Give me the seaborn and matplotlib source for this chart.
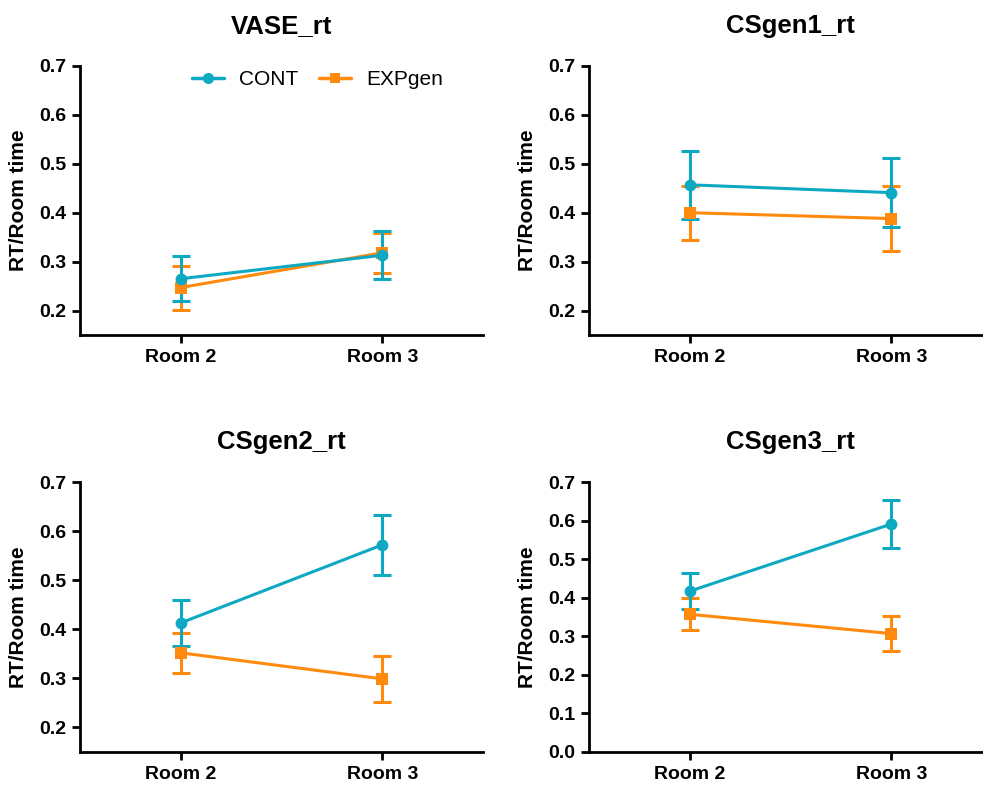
import pandas as pd
import matplotlib
matplotlib.use("Agg")
import matplotlib.pyplot as plt
import seaborn as sns
from matplotlib.lines import Line2D

# Data (means and SEM)
rooms = ["Room 2", "Room 3"]
groups = ["CONT", "EXPgen"]
titles = ["VASE_rt", "CSgen1_rt", "CSgen2_rt", "CSgen3_rt"]

cont_mean = [[0.265, 0.313], [0.457, 0.441], [0.413, 0.572], [0.417, 0.591]]
cont_sem = [[0.046, 0.049], [0.069, 0.071], [0.047, 0.061], [0.046, 0.063]]
exp_mean = [[0.247, 0.318], [0.400, 0.388], [0.352, 0.299], [0.357, 0.307]]
exp_sem = [[0.045, 0.041], [0.055, 0.066], [0.041, 0.047], [0.041, 0.046]]

y_lims = [(0.15, 0.7), (0.15, 0.7), (0.15, 0.7), (0.0, 0.7)]
y_ticks = [[0.2, 0.3, 0.4, 0.5, 0.6, 0.7]] * 3 + [[0.0, 0.1, 0.2, 0.3, 0.4, 0.5, 0.6, 0.7]]

colors = {"CONT": "#0DA9C2", "EXPgen": "#FF8A0D"}
markers = {"CONT": "o", "EXPgen": "s"}
msize = {"CONT": 8.5, "EXPgen": 8}

sns.set_style("ticks")
plt.rcParams['font.family'] = ['Liberation Sans', 'DejaVu Sans']
plt.rcParams['text.color'] = 'black'
plt.rcParams['axes.labelcolor'] = 'black'
plt.rcParams['xtick.color'] = 'black'
plt.rcParams['ytick.color'] = 'black'

fig = plt.figure(figsize=(9.83, 7.88), dpi=100)
positions = [
    [0.0814, 0.5749, 0.41, 0.3414],
    [0.5992, 0.5749, 0.41, 0.3414],
    [0.0814, 0.0457, 0.41, 0.3426],
    [0.5992, 0.0457, 0.41, 0.3426],
]

for i, pos in enumerate(positions):
    ax = fig.add_axes(pos)
    df = pd.DataFrame({
        "room": rooms * 2,
        "group": ["CONT"] * 2 + ["EXPgen"] * 2,
        "mean": cont_mean[i] + exp_mean[i],
        "sem": cont_sem[i] + exp_sem[i],
    })
    # orange first so the cyan series sits on top
    for g in ["EXPgen", "CONT"]:
        sub = df[df["group"] == g]
        ax.errorbar(sub["room"], sub["mean"], yerr=sub["sem"], fmt="none",
                    ecolor=colors[g], elinewidth=2.2, capsize=6.5, capthick=2.2, zorder=2)
        sns.lineplot(data=sub, x="room", y="mean", ax=ax, color=colors[g],
                     marker=markers[g], markersize=msize[g], markeredgewidth=0,
                     linewidth=2.2, sort=False, zorder=3)

    ax.set_xlim(-0.5, 1.5)
    ax.set_ylim(*y_lims[i])
    ax.set_yticks(y_ticks[i])
    ax.set_yticklabels([f"{v:.1f}" for v in y_ticks[i]])
    ax.set_xlabel("")
    ax.set_ylabel("RT/Room time", fontsize=15, fontweight="bold", labelpad=8)
    ax.set_title(titles[i], fontsize=18.5, fontweight="bold", pad=24)
    for lab in ax.get_xticklabels() + ax.get_yticklabels():
        lab.set_fontweight("bold")
        lab.set_fontsize(14)
    ax.tick_params(axis="both", width=2, length=6, color="black", pad=4)
    for s in ["left", "bottom"]:
        ax.spines[s].set_linewidth(2)
        ax.spines[s].set_color("black")
    sns.despine(ax=ax)

    if i == 0:
        handles = [Line2D([], [], color=colors[g], marker=markers[g], markersize=msize[g] - 0.5,
                          markeredgewidth=0, linewidth=2.5) for g in groups]
        ax.legend(handles, groups, loc="center", bbox_to_anchor=(0.59, 0.95), ncol=2,
                  frameon=False, fontsize=15, handlelength=1.5, handletextpad=0.75,
                  columnspacing=1.0)

plt.savefig("out.png", dpi=100)
plt.close()
